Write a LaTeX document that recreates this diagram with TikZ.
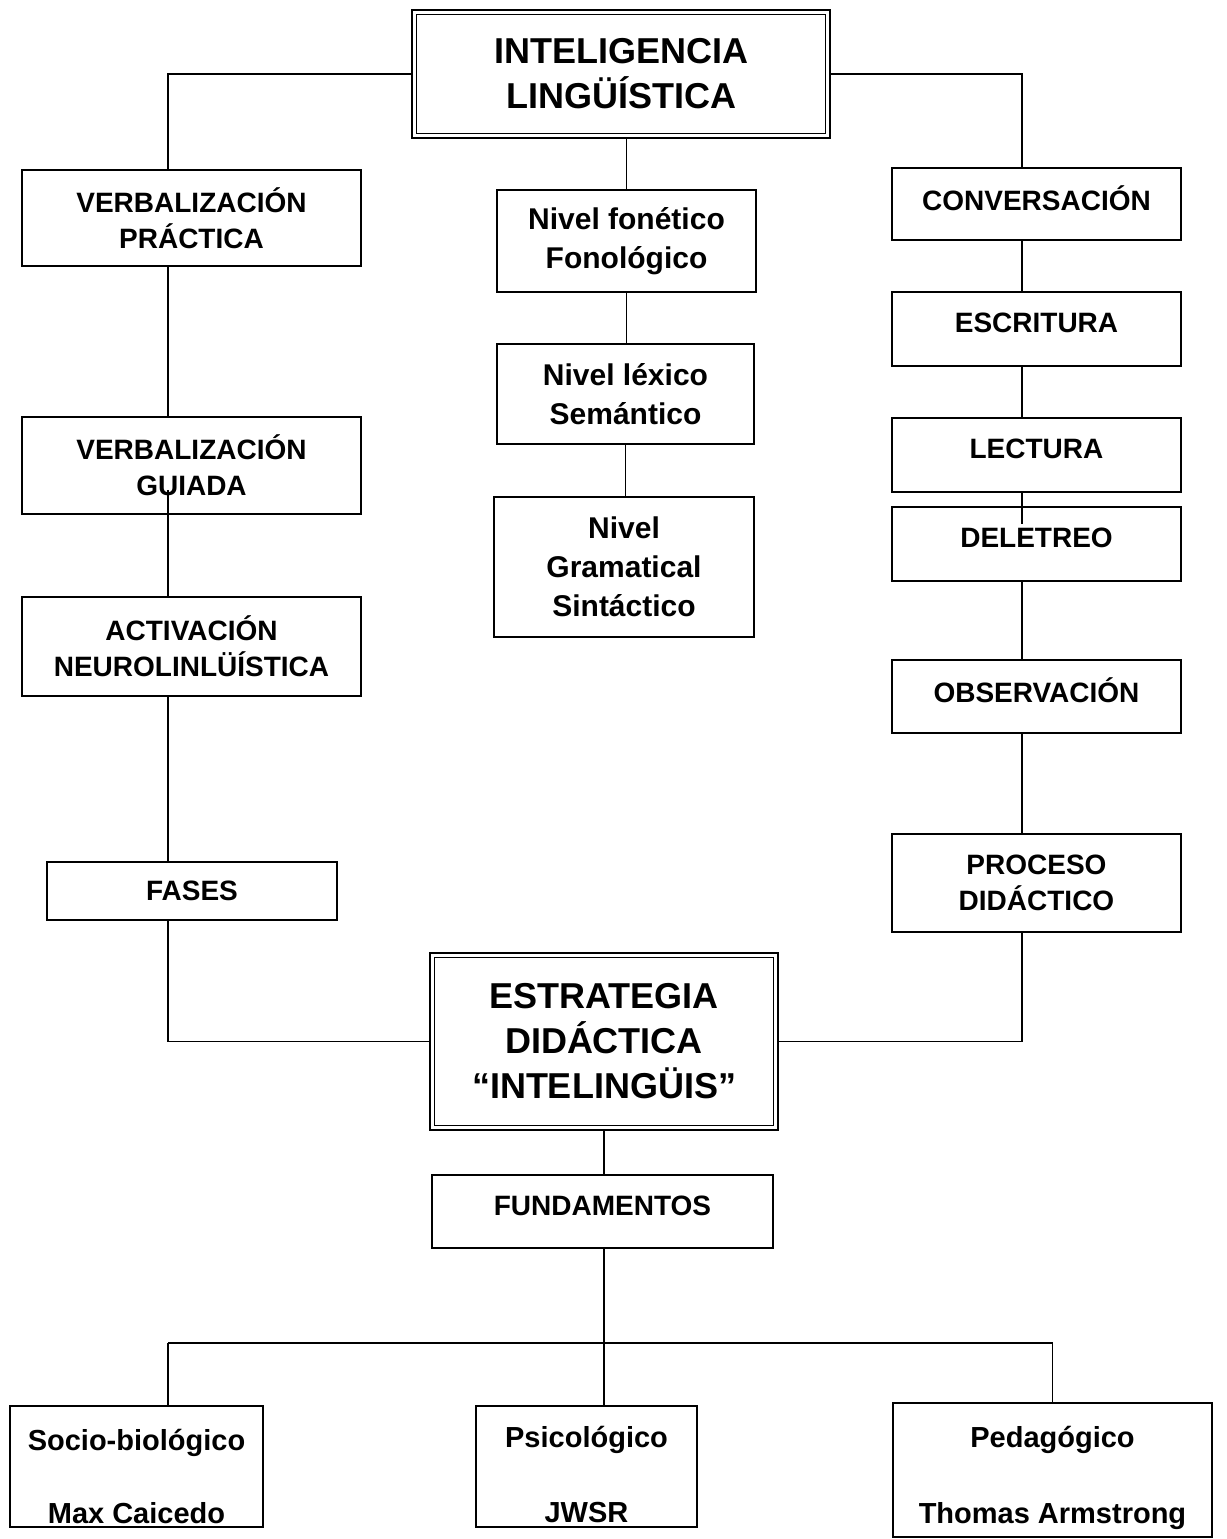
\documentclass[tikz,border=0pt]{standalone}
\usepackage{fontspec}
\setmainfont{Liberation Sans}
\usetikzlibrary{calc}
\begin{document}
\begin{tikzpicture}[x=1pt,y=-1pt,
  box/.style={draw, line width=1.6pt, rectangle, inner sep=0pt, align=center, fill=white,
    font=\bfseries\fontsize{28}{36}\selectfont},
  nivel/.style={box, font=\bfseries\fontsize{30}{39}\selectfont},
  bigbox/.style={box, line width=2.6pt, font=\bfseries\fontsize{36}{45}\selectfont},
  fbox/.style={box, font=\bfseries\fontsize{29}{36}\selectfont},
  up/.style={text depth=12pt},
  conn/.style={line width=1.4pt}]
\useasboundingbox (0,0) rectangle (1226,1539);
\coordinate (L) at (168,0);
\coordinate (R) at (1022,0);
\coordinate (M) at (604,0);
\coordinate (B) at (0,1343);

% title
\node[bigbox, minimum width=418pt, minimum height=128pt] (t) at (621,74) {INTELIGENCIA\\LINGÜÍSTICA};
\draw[line width=1.2pt] ([shift={(6pt,-6pt)}]t.north west) rectangle ([shift={(-6pt,6pt)}]t.south east);

% left column
\node[box, minimum width=339pt, minimum height=96pt] (vp) at (191.5,218) {VERBALIZACIÓN\\PRÁCTICA};
\node[box, minimum width=339pt, minimum height=97pt] (vg) at (191.5,465.5) {VERBALIZACIÓN\\GUIADA};
\node[box, minimum width=339pt, minimum height=99pt] (an) at (191.5,646.5) {ACTIVACIÓN\\NEUROLINLÜÍSTICA};
\node[box, minimum width=290pt, minimum height=58pt] (fa) at (192,891) {FASES};

% middle column
\node[nivel, minimum width=259pt, minimum height=102pt] (nf) at (626.5,241) {Nivel fonético\\Fonológico};
\node[nivel, minimum width=257pt, minimum height=100pt] (nl) at (625.5,394) {Nivel léxico\\Semántico};
\node[nivel, minimum width=260pt, minimum height=140pt] (ng) at (624,567) {Nivel\\Gramatical\\Sintáctico};

% right column
\node[box, up, minimum width=289pt, minimum height=72pt] (conv) at (1036.5,204) {CONVERSACIÓN};
\node[box, up, minimum width=289pt, minimum height=74pt] (esc) at (1036.5,329) {ESCRITURA};
\node[box, up, minimum width=289pt, minimum height=74pt] (lec) at (1036.5,455) {LECTURA};
\node[box, up, minimum width=289pt, minimum height=74pt] (del) at (1036.5,544) {DELETREO};
\node[box, up, minimum width=289pt, minimum height=73pt] (obs) at (1036.5,696.5) {OBSERVACIÓN};
\node[box, minimum width=289pt, minimum height=98pt] (pd) at (1036.5,883) {PROCESO\\DIDÁCTICO};

% strategy
\node[bigbox, minimum width=348pt, minimum height=177pt] (ed) at (604,1041.5) {ESTRATEGIA\\DIDÁCTICA\\“INTELINGÜIS”};
\draw[line width=1.2pt] ([shift={(6pt,-6pt)}]ed.north west) rectangle ([shift={(-6pt,6pt)}]ed.south east);
\node[box, up, minimum width=341pt, minimum height=73pt] (fu) at (602.5,1211.5) {FUNDAMENTOS};

% bottom
\node[fbox, minimum width=253pt, minimum height=121pt] (so) at (136.5,1466.5) {\rule{0pt}{42pt}Socio-biológico\\[37pt]Max Caicedo};
\node[fbox, minimum width=221pt, minimum height=121pt] (ps) at (586.5,1466.5) {\rule{0pt}{37pt}Psicológico\\[39pt]JWSR};
\node[fbox, minimum width=319pt, minimum height=134pt] (pe) at (1052.5,1470) {\rule{0pt}{37pt}Pedagógico\\[40pt]Thomas Armstrong};

% connectors
\draw[conn] (t.west) -| (vp.north -| L);
\draw[conn] (t.east) -| (conv.north -| R);
\draw[conn] (nf.north |- t.south) -- (nf.north);
\draw[conn] (nf.south) -- (nl.north -| nf.south);
\draw[conn] (nl.south) -- (ng.north -| nl.south);

\draw[conn] (vp.south -| L) -- (vg.north -| L);
\draw[conn] ($(vg.south -| L)+(0,25pt)$) -- (an.north -| L);
\draw[conn] (an.south -| L) -- (fa.north -| L);
\draw[conn] (fa.south -| L) |- (ed.west);

\draw[conn] (conv.south -| R) -- (esc.north -| R);
\draw[conn] (esc.south -| R) -- (lec.north -| R);
\draw[conn] (lec.south -| R) -- ($(del.north -| R)+(0,-18pt)$);
\draw[conn] (del.south -| R) -- (obs.north -| R);
\draw[conn] (obs.south -| R) -- (pd.north -| R);
\draw[conn] (pd.south -| R) |- (ed.east);

\draw[conn] (ed.south -| M) -- (fu.north -| M);
\draw[conn] (fu.south -| M) -- (ps.north -| M);
\draw[conn] (B -| L) -- (B -| pe.north);
\draw[conn] (B -| L) -- (so.north -| L);
\draw[conn] (B -| pe.north) -- (pe.north);
\end{tikzpicture}
\end{document}
